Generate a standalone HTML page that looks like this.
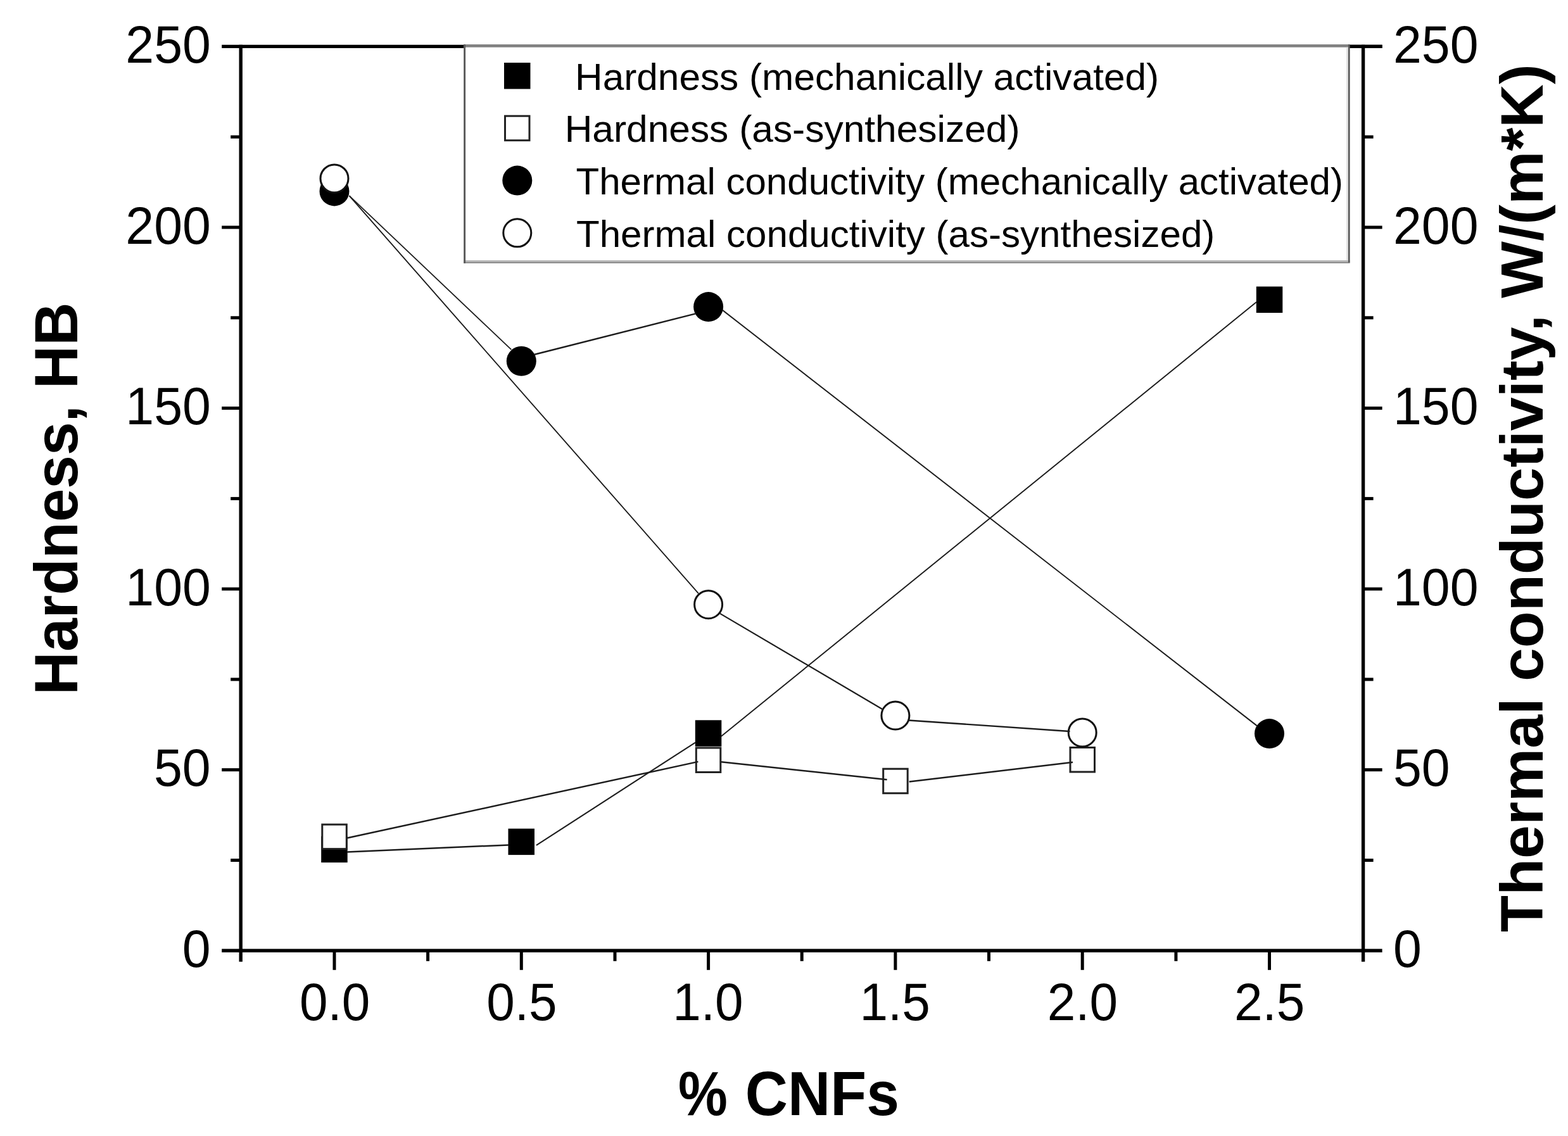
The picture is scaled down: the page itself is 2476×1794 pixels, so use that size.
<!DOCTYPE html>
<html lang="en"><head><meta charset="utf-8"><title>Hardness and thermal conductivity vs % CNFs</title>
<style>
html,body{margin:0;padding:0;background:#fff;}
body{width:2476px;height:1794px;overflow:hidden;}
svg{display:block;}
text{font-family:"Liberation Sans",sans-serif;fill:#000;}
.tk{font-size:83px;}
.lg{font-size:60px;}
.tt{font-size:99px;font-weight:bold;}
</style></head><body>
<svg width="2476" height="1794" viewBox="0 0 2476 1794" role="img" aria-label="Hardness and thermal conductivity versus CNF content">
<rect x="0" y="0" width="2476" height="1794" fill="#fff"/>
<g id="markers">
<rect x="507.2" y="1320.6" width="41.5" height="41.5" fill="#000"/>
<rect x="802.5" y="1308.6" width="41.5" height="41.5" fill="#000"/>
<rect x="1097.8" y="1137.3" width="41.5" height="41.5" fill="#000"/>
<rect x="1983.8" y="452.5" width="41.5" height="41.5" fill="#000"/>
<rect x="508.8" y="1302.1" width="38.5" height="38.5" fill="#fff" stroke="#222" stroke-width="3"/>
<rect x="1099.3" y="1181.0" width="38.5" height="38.5" fill="#fff" stroke="#222" stroke-width="3"/>
<rect x="1394.7" y="1214.2" width="38.5" height="38.5" fill="#fff" stroke="#222" stroke-width="3"/>
<rect x="1690.0" y="1180.5" width="38.5" height="38.5" fill="#fff" stroke="#222" stroke-width="3"/>
<circle cx="528.0" cy="301.9" r="23.5" fill="#000"/>
<circle cx="823.3" cy="570.3" r="23.5" fill="#000"/>
<circle cx="1118.6" cy="484.6" r="23.5" fill="#000"/>
<circle cx="2004.5" cy="1158.6" r="23.5" fill="#000"/>
<circle cx="528.0" cy="281.9" r="22.0" fill="#fff" stroke="#111" stroke-width="3"/>
<circle cx="1118.6" cy="954.7" r="22.0" fill="#fff" stroke="#111" stroke-width="3"/>
<circle cx="1413.9" cy="1130.0" r="22.0" fill="#fff" stroke="#111" stroke-width="3"/>
<circle cx="1709.2" cy="1156.9" r="22.0" fill="#fff" stroke="#111" stroke-width="3"/>
</g>
<g id="lines" stroke="#1c1c1c" fill="none">
<line x1="547.8" y1="1345.4" x2="803.1" y2="1334.4" stroke-width="2.50"/>
<line x1="846.9" y1="1334.9" x2="1098.0" y2="1172.6" stroke-width="2.10"/>
<line x1="1138.9" y1="1162.7" x2="1984.0" y2="477.0" stroke-width="1.94"/>
<line x1="547.8" y1="1323.5" x2="1102.4" y2="1202.9" stroke-width="2.44"/>
<line x1="1138.9" y1="1203.2" x2="1400.6" y2="1231.2" stroke-width="2.49"/>
<line x1="1435.7" y1="1234.5" x2="1694.0" y2="1203.8" stroke-width="2.48"/>
<line x1="551.5" y1="309.2" x2="807.4" y2="552.2" stroke-width="1.81"/>
<line x1="843.3" y1="560.0" x2="1099.3" y2="495.1" stroke-width="2.42"/>
<line x1="1140.4" y1="489.4" x2="1985.1" y2="1146.4" stroke-width="1.97"/>
<line x1="551.5" y1="309.2" x2="1102.9" y2="937.1" stroke-width="1.88"/>
<line x1="1136.9" y1="968.9" x2="1394.6" y2="1120.7" stroke-width="2.15"/>
<line x1="1434.2" y1="1137.4" x2="1689.5" y2="1155.1" stroke-width="2.49"/>
</g>
<g id="axes" stroke="#000" stroke-width="5.4" fill="none">
<line x1="380.2" y1="70.7" x2="380.2" y2="1518.8"/>
<line x1="2152.6" y1="70.7" x2="2152.6" y2="1518.8"/>
<line x1="350.2" y1="73.4" x2="2182.6" y2="73.4"/>
<line x1="350.2" y1="1501.3" x2="2182.6" y2="1501.3"/>
</g>
<g id="ticks" stroke="#000" stroke-width="5" fill="none">
<line x1="364.2" y1="1358.5" x2="380.2" y2="1358.5"/>
<line x1="2152.6" y1="1358.5" x2="2168.6" y2="1358.5"/>
<line x1="350.2" y1="1215.7" x2="380.2" y2="1215.7"/>
<line x1="2152.6" y1="1215.7" x2="2182.6" y2="1215.7"/>
<line x1="364.2" y1="1072.9" x2="380.2" y2="1072.9"/>
<line x1="2152.6" y1="1072.9" x2="2168.6" y2="1072.9"/>
<line x1="350.2" y1="930.1" x2="380.2" y2="930.1"/>
<line x1="2152.6" y1="930.1" x2="2182.6" y2="930.1"/>
<line x1="364.2" y1="787.4" x2="380.2" y2="787.4"/>
<line x1="2152.6" y1="787.4" x2="2168.6" y2="787.4"/>
<line x1="350.2" y1="644.6" x2="380.2" y2="644.6"/>
<line x1="2152.6" y1="644.6" x2="2182.6" y2="644.6"/>
<line x1="364.2" y1="501.8" x2="380.2" y2="501.8"/>
<line x1="2152.6" y1="501.8" x2="2168.6" y2="501.8"/>
<line x1="350.2" y1="359.0" x2="380.2" y2="359.0"/>
<line x1="2152.6" y1="359.0" x2="2182.6" y2="359.0"/>
<line x1="364.2" y1="216.2" x2="380.2" y2="216.2"/>
<line x1="2152.6" y1="216.2" x2="2168.6" y2="216.2"/>
<line x1="528.0" y1="1501.3" x2="528.0" y2="1531.8"/>
<line x1="675.6" y1="1501.3" x2="675.6" y2="1517.8"/>
<line x1="823.3" y1="1501.3" x2="823.3" y2="1531.8"/>
<line x1="971.0" y1="1501.3" x2="971.0" y2="1517.8"/>
<line x1="1118.6" y1="1501.3" x2="1118.6" y2="1531.8"/>
<line x1="1266.2" y1="1501.3" x2="1266.2" y2="1517.8"/>
<line x1="1413.9" y1="1501.3" x2="1413.9" y2="1531.8"/>
<line x1="1561.5" y1="1501.3" x2="1561.5" y2="1517.8"/>
<line x1="1709.2" y1="1501.3" x2="1709.2" y2="1531.8"/>
<line x1="1856.9" y1="1501.3" x2="1856.9" y2="1517.8"/>
<line x1="2004.5" y1="1501.3" x2="2004.5" y2="1531.8"/>
</g>
<g id="ylabels-left" class="tk">
<text transform="translate(287.70 1527.00) scale(0.9720 1)">0</text>
<text transform="translate(242.99 1241.42) scale(0.9720 1)">50</text>
<text transform="translate(198.28 955.84) scale(0.9720 1)">100</text>
<text transform="translate(198.28 670.26) scale(0.9720 1)">150</text>
<text transform="translate(198.28 384.68) scale(0.9720 1)">200</text>
<text transform="translate(198.28 99.10) scale(0.9720 1)">250</text>
</g>
<g id="ylabels-right" class="tk">
<text transform="translate(2200.00 1527.00) scale(0.9720 1)">0</text>
<text transform="translate(2200.00 1241.42) scale(0.9720 1)">50</text>
<text transform="translate(2200.00 955.84) scale(0.9720 1)">100</text>
<text transform="translate(2200.00 670.26) scale(0.9720 1)">150</text>
<text transform="translate(2200.00 384.68) scale(0.9720 1)">200</text>
<text transform="translate(2200.00 99.10) scale(0.9720 1)">250</text>
</g>
<g id="xlabels" class="tk">
<text transform="translate(473.01 1611.00) scale(0.9650 1)">0.0</text>
<text transform="translate(768.31 1611.00) scale(0.9650 1)">0.5</text>
<text transform="translate(1062.16 1611.00) scale(0.9650 1)">1.0</text>
<text transform="translate(1357.47 1611.00) scale(0.9650 1)">1.5</text>
<text transform="translate(1653.73 1611.00) scale(0.9650 1)">2.0</text>
<text transform="translate(1949.03 1611.00) scale(0.9650 1)">2.5</text>
</g>
<g id="titles" class="tt">
<text transform="translate(1071.03 1761.00) scale(0.8843 1)">%</text>
<text transform="translate(1176.84 1761.00) scale(0.9408 1)">CNFs</text>
<text style="font-size:96.5px" transform="translate(122.40 1097.38) rotate(-90) scale(0.9797 1)">Hardness, HB</text>
<text style="font-size:95px" transform="translate(2436.00 1472.00) rotate(-90) scale(1.0000 1)">Thermal conductivity, W/(m*K)</text>
</g>
<g id="legend">
<rect x="732.2" y="70.1" width="1399.4" height="345.6" fill="#fff"/>
<rect x="732.2" y="70.1" width="1399.4" height="4.6" fill="#808080"/>
<rect x="732.2" y="411.1" width="1399.4" height="3.0" fill="#b4b4b4"/>
<rect x="732.2" y="414.0" width="1399.4" height="1.7" fill="#808080"/>
<rect x="732.2" y="70.1" width="2.9" height="345.6" fill="#585858"/>
<rect x="2126.1" y="74.7" width="2.9" height="336.4" fill="#e2e2e2"/>
<rect x="2128.9" y="70.1" width="2.7" height="344.4" fill="#585858"/>
<line x1="2131.6" y1="73.4" x2="2182.6" y2="73.4" stroke="#000" stroke-width="5.4"/>
<rect x="796.0" y="99.0" width="41.5" height="41.5" fill="#000"/>
<rect x="797.5" y="183.2" width="38.5" height="38.5" fill="#fff" stroke="#222" stroke-width="3"/>
<circle cx="816.8" cy="285.1" r="23.5" fill="#000"/>
<circle cx="816.8" cy="367.8" r="22.0" fill="#fff" stroke="#111" stroke-width="3"/>
<g class="lg">
<text transform="translate(908.07 141.50) scale(1.0058 1)">Hardness (mechanically activated)</text>
<text transform="translate(891.66 224.40) scale(1.0075 1)">Hardness (as-synthesized)</text>
<text transform="translate(909.50 307.30) scale(1.0012 1)">Thermal conductivity (mechanically activated)</text>
<text transform="translate(910.00 390.20) scale(1.0015 1)">Thermal conductivity (as-synthesized)</text>
</g>
</g>
</svg>
</body></html>
